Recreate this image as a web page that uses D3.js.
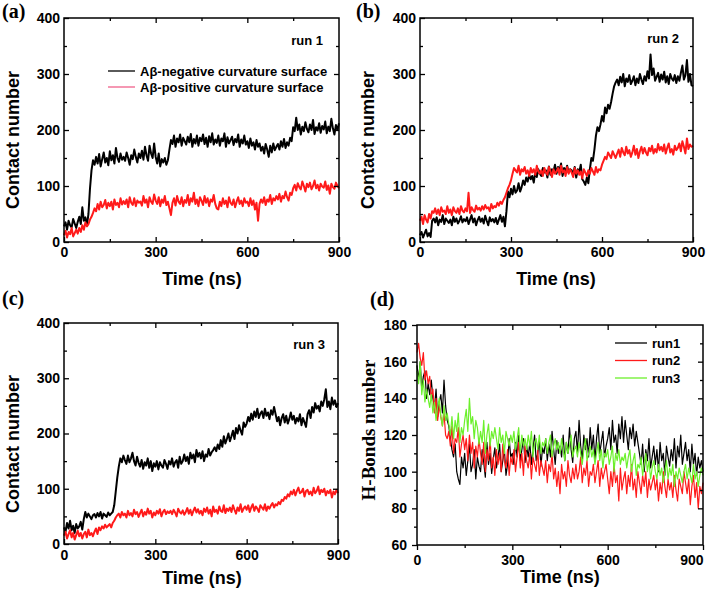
<!DOCTYPE html>
<html><head><meta charset="utf-8">
<script src="https://cdn.jsdelivr.net/npm/d3@7"></script>
<style>body{margin:0;background:#fff}svg{display:block}</style>
</head><body><svg id="c" width="709" height="595"></svg>
<script>
// ---------- data ----------
const timeNs = d3.range(0, 901, 5);
const xTicks = [0, 300, 600, 900];
const xMinor = [150, 450, 750];
const contactTicks = [0, 100, 200, 300, 400];
const contactMinor = [50, 150, 250, 350];
const hbTicks = [60, 80, 100, 120, 140, 160, 180];
const hbMinor = [70, 90, 110, 130, 150, 170];
const legendContact = ["Aβ-negative curvature surface", "Aβ-positive curvature surface"];
const legendHB = ["run1", "run2", "run3"];
const panelLabels = ["(a)", "(b)", "(c)", "(d)"];
const runLabels = ["run 1", "run 2", "run 3"];

const run1Neg = [28,35,22,38,30,26,41,33,25,36,
45,32,62,38,44,30,50,95,128,146,
138,152,140,157,135,148,160,142,150,137,
162,146,155,140,168,150,143,158,147,152,
145,160,150,138,155,148,165,152,142,158,
150,163,147,170,155,145,172,158,150,176,
152,140,158,135,148,142,150,138,146,165,
182,175,190,170,185,178,192,172,186,180,
174,188,178,193,170,184,176,190,172,186,
180,192,175,186,170,189,178,194,174,183,
177,190,172,185,180,194,170,187,176,182,
188,173,184,178,192,170,183,176,190,174,
180,168,185,172,178,165,182,170,176,163,
170,158,175,165,152,172,160,176,164,170,
175,165,180,170,184,168,178,172,186,180,
205,198,222,200,210,192,206,198,214,202,
196,210,200,218,193,205,199,212,195,207,
201,215,194,206,198,220,203,192,209,200,
212];
const run1Pos = [12,20,8,18,14,25,10,16,22,15,
25,18,30,22,35,28,32,40,45,52,
60,55,68,58,72,62,66,75,60,70,
64,72,58,76,66,70,62,78,67,73,
68,76,62,80,70,66,78,64,74,70,
72,65,82,70,76,62,80,72,68,85,
74,68,80,64,76,70,82,66,72,60,
48,70,78,65,82,72,68,80,64,75,
70,84,66,78,72,88,68,76,64,80,
74,66,82,70,78,64,76,72,84,68,
60,58,72,64,78,68,74,62,80,70,
66,76,62,72,80,68,74,64,78,70,
72,64,78,66,74,58,70,38,68,76,
70,80,66,76,72,84,68,78,74,82,
76,86,72,82,78,90,80,74,88,84,
96,102,92,105,98,94,108,100,90,104,
98,106,94,100,110,96,102,92,104,99,
97,108,93,101,86,104,98,95,106,100,
96];
const run2Neg = [12,18,8,15,22,10,16,9,38,42,
35,44,30,40,36,48,32,42,38,34,
40,30,45,36,42,33,38,46,35,41,
37,44,32,40,48,35,42,30,39,45,
36,42,33,47,38,30,44,37,41,35,
43,32,40,48,36,45,28,55,90,80,
95,85,100,88,92,105,90,98,110,102,
115,108,120,112,118,106,125,116,130,122,
118,132,124,128,115,135,120,130,126,138,
122,134,128,140,118,132,126,136,124,130,
128,120,134,115,130,124,138,112,108,102,
115,105,130,150,145,165,190,205,198,210,
225,215,240,230,245,238,250,265,278,285,
290,280,295,285,300,278,292,286,298,282,
288,296,280,292,284,300,290,282,296,288,
305,292,335,298,310,288,295,302,286,299,
290,304,285,296,282,300,292,288,298,284,
296,288,302,315,290,298,325,286,300,280,
278];
const run2Pos = [38,45,32,48,40,35,50,42,55,52,
60,50,58,48,62,54,56,50,64,52,
58,48,62,55,52,60,50,64,56,53,
60,55,88,52,62,57,54,65,58,61,
56,64,58,66,60,62,55,68,60,64,
62,70,65,72,68,75,80,88,96,102,
110,122,132,128,124,136,120,130,126,134,
122,128,118,132,124,130,120,136,126,122,
128,118,132,124,120,134,126,116,130,122,
126,132,120,136,124,128,118,134,122,130,
124,116,132,122,128,120,126,114,130,124,
118,128,122,132,126,120,134,124,130,128,
138,145,152,148,160,155,150,162,156,150,
158,165,152,168,160,155,170,158,164,152,
160,172,156,166,150,162,170,158,168,160,
155,168,162,172,158,166,160,175,164,170,
162,174,158,168,176,160,166,156,172,164,
168,176,162,180,170,158,185,166,174,170,
172];
const run3Neg = [30,22,38,28,42,25,33,20,36,28,
32,40,26,45,58,48,55,50,45,52,
54,48,56,50,58,46,55,52,49,57,
52,55,58,70,95,120,140,155,148,160,
152,145,160,148,155,165,150,142,158,147,
140,152,136,148,142,155,138,150,132,146,
140,150,135,148,142,138,152,145,136,150,
144,155,140,148,152,138,158,145,150,162,
150,158,145,165,155,162,148,170,158,165,
155,168,150,162,158,172,160,166,170,175,
168,180,172,188,176,195,182,190,200,186,
195,205,190,210,200,215,205,198,220,212,
218,230,222,236,225,240,230,245,228,236,
240,228,245,232,238,226,242,234,248,235,
222,230,215,228,235,220,232,218,226,238,
225,232,218,228,222,235,215,228,220,212,
235,242,228,248,238,255,245,250,240,258,
250,262,280,248,258,244,265,252,260,248,
255];
const run3Pos = [15,22,10,18,25,12,20,8,16,24,
14,20,10,18,22,12,26,16,20,14,
22,28,18,30,25,32,28,35,30,33,
36,30,38,42,48,52,55,48,58,52,
55,48,60,52,56,50,62,54,58,49,
56,62,50,58,53,64,55,60,48,57,
52,60,55,63,50,58,62,54,59,56,
60,54,62,57,50,64,58,55,61,53,
58,65,55,62,52,60,66,57,63,55,
60,52,64,58,66,55,62,50,68,58,
62,55,68,60,58,70,56,64,60,66,
58,70,62,55,66,60,72,58,64,68,
62,70,58,66,72,60,68,64,58,70,
66,62,72,60,68,64,70,74,66,72,
70,76,72,80,78,85,82,90,86,95,
90,98,88,96,102,92,94,100,86,96,
98,90,95,88,102,92,96,104,90,98,
94,100,88,96,92,98,84,95,90,98,
92];
const hbRun1 = [158,150,160,145,152,155,140,148,142,150,
140,135,145,130,138,142,132,150,136,128,
125,118,112,108,115,100,96,93,108,102,
110,98,106,115,100,104,112,96,108,103,
100,112,105,97,116,104,110,99,107,113,
102,108,115,100,106,112,98,104,118,108,
110,104,116,108,120,106,112,118,105,114,
108,116,104,112,120,106,110,117,103,113,
110,118,106,115,108,122,112,104,117,110,
114,108,120,106,116,110,124,112,105,118,
122,110,128,114,106,120,112,118,108,124,
112,120,106,118,126,110,116,122,108,114,
118,124,112,128,116,120,110,126,118,130,
116,128,120,112,124,118,126,114,122,116,
110,104,115,100,112,106,118,102,108,114,
104,112,100,116,106,110,98,114,108,103,
112,106,118,102,114,108,120,104,110,116,
106,112,100,115,104,110,98,108,102,106,
100];
const hbRun2 = [165,170,162,158,165,150,155,148,152,140,
145,132,140,128,136,130,125,132,120,118,
122,114,125,110,118,116,124,108,115,120,
112,118,106,120,110,116,102,114,108,118,
110,104,116,100,112,106,118,102,108,98,
112,104,110,100,115,106,102,112,98,108,
104,112,100,108,116,102,110,98,114,106,
102,110,96,108,104,100,112,98,106,102,
98,106,94,104,100,110,96,102,92,100,
88,104,96,100,92,106,98,94,102,96,
104,96,100,108,94,102,98,106,92,100,
98,104,94,100,106,92,102,96,100,104,
96,88,100,92,104,94,98,84,102,90,
96,100,88,98,92,104,90,96,86,100,
94,88,98,92,100,86,96,90,94,98,
90,96,84,94,88,100,92,86,96,90,
94,86,98,90,84,96,92,88,100,94,
88,96,82,92,98,86,94,80,92,88,
94];
const hbRun3 = [155,148,160,142,150,138,145,140,135,142,
132,138,128,135,140,130,125,136,128,132,
126,120,130,118,128,122,132,116,124,120,
128,134,122,140,126,130,118,128,124,115,
122,116,128,110,120,126,114,122,118,124,
118,112,124,116,120,110,122,118,114,120,
116,122,112,118,124,110,120,114,118,112,
120,114,122,108,116,118,112,120,110,116,
114,118,110,116,120,108,114,118,112,116,
110,118,112,106,116,110,114,120,108,112,
114,108,116,110,104,112,118,106,110,114,
108,112,104,110,116,106,112,102,110,108,
112,104,108,114,100,110,106,112,104,108,
106,110,102,108,112,100,106,110,98,104,
102,108,98,104,110,100,106,96,102,106,
100,96,104,98,102,94,100,106,96,102,
98,104,92,100,96,102,98,94,100,104,
96,102,98,94,104,96,100,92,98,102,
98];

// ---------- drawing ----------
const svg = d3.select("#c");
const SANS = "'Liberation Sans', Arial, sans-serif";
const SERIF = "'Liberation Serif', 'Times New Roman', serif";
const BLACK = "#000", RED = "#ff1a1a", GREEN = "#6cf02c";

function panel(o) {
  const g = svg.append("g");
  const x = d3.scaleLinear().domain([0, 900]).range([o.x0, o.x1]);
  const y = d3.scaleLinear().domain(o.yDom).range([o.y1, o.y0]);
  const outL = o.outward ? 5 : -5, outLm = o.outward ? 3 : -3;
  const clean = s => { s.select(".domain").remove(); s.selectAll("line").attr("stroke", "#000").attr("stroke-width", 1.3); };
  const lab = s => s.selectAll("text").attr("font-family", SANS).attr("font-weight", "bold").attr("font-size", 14).attr("fill", "#000");

  // series
  o.series.forEach(s => {
    g.append("path").datum(s.values)
      .attr("fill", "none").attr("stroke", s.color).attr("stroke-width", o.lw)
      .attr("stroke-linejoin", "round")
      .attr("d", d3.line().x((d, i) => x(timeNs[i])).y(d => y(d)));
  });

  // bottom
  const b = g.append("g").attr("transform", `translate(0,${o.y1})`)
    .call(d3.axisBottom(x).tickValues(xTicks).tickSize(outL).tickPadding(o.xPad))
    .call(clean).call(lab);
  if (o.lastEnd) b.selectAll(".tick").filter(d => d === 900).select("text").attr("text-anchor", "end").attr("x", o.x1 - x(900));
  g.append("g").attr("transform", `translate(0,${o.y1})`)
    .call(d3.axisBottom(x).tickValues(xMinor).tickSize(outLm).tickFormat("")).call(clean);
  // top
  g.append("g").attr("transform", `translate(0,${o.y0})`)
    .call(d3.axisTop(x).tickValues(xTicks.slice(1, 3)).tickSize(-5).tickFormat("")).call(clean);
  g.append("g").attr("transform", `translate(0,${o.y0})`)
    .call(d3.axisTop(x).tickValues(xMinor).tickSize(-3).tickFormat("")).call(clean);
  // left
  g.append("g").attr("transform", `translate(${o.x0},0)`)
    .call(d3.axisLeft(y).tickValues(o.yTicks).tickSize(outL).tickPadding(o.yPad))
    .call(clean).call(lab);
  g.append("g").attr("transform", `translate(${o.x0},0)`)
    .call(d3.axisLeft(y).tickValues(o.yMinor).tickSize(outLm).tickFormat("")).call(clean);
  // right
  g.append("g").attr("transform", `translate(${o.x1},0)`)
    .call(d3.axisRight(y).tickValues(o.yTicks.slice(1, -1)).tickSize(-5).tickFormat("")).call(clean);
  g.append("g").attr("transform", `translate(${o.x1},0)`)
    .call(d3.axisRight(y).tickValues(o.yMinor).tickSize(-3).tickFormat("")).call(clean);

  // frame
  g.append("rect").attr("x", o.x0).attr("y", o.y0).attr("width", o.x1 - o.x0).attr("height", o.y1 - o.y0)
    .attr("fill", "none").attr("stroke", "#000").attr("stroke-width", 1.5);

  // titles
  g.append("text").attr("x", o.xtX).attr("y", o.xtY).attr("text-anchor", "middle")
    .attr("font-family", SANS).attr("font-weight", "bold").attr("font-size", 18).text("Time (ns)");
  g.append("text").attr("transform", `translate(${o.ytX},${o.ytY}) rotate(-90)`).attr("text-anchor", "middle")
    .attr("font-family", o.ytSerif ? SERIF : SANS).attr("font-weight", "bold").attr("font-size", o.ytSerif ? 19 : 18)
    .text(o.yTitle);
  g.append("text").attr("x", o.plX).attr("y", o.plY).attr("font-family", SERIF).attr("font-weight", "bold")
    .attr("font-size", 20).text(o.label);
  if (o.run) g.append("text").attr("x", o.runX).attr("y", o.runY).attr("text-anchor", "end")
    .attr("font-family", SANS).attr("font-weight", "bold").attr("font-size", 13).text(o.run);

  // legend
  if (o.legend) {
    o.legend.items.forEach((t, i) => {
      const yy = o.legend.y + i * o.legend.dy;
      g.append("line").attr("x1", o.legend.x).attr("x2", o.legend.x + o.legend.len).attr("y1", yy).attr("y2", yy)
        .attr("stroke", o.legend.colors[i]).attr("stroke-width", 1.3);
      g.append("text").attr("x", o.legend.x + o.legend.len + 5).attr("y", yy + 4.5)
        .attr("font-family", SANS).attr("font-weight", "bold").attr("font-size", 13).text(t);
    });
  }
}

panel({x0: 64, x1: 339, y0: 18, y1: 242, yDom: [0, 400], yTicks: contactTicks, yMinor: contactMinor, lw: 2,
  xPad: 5, yPad: 4, xtX: 202, xtY: 285, ytX: 19, ytY: 140, yTitle: "Contact number",
  plX: 2, plY: 18, label: panelLabels[0], run: runLabels[0], runX: 323, runY: 45,
  series: [{values: run1Neg, color: BLACK}, {values: run1Pos, color: RED}],
  legend: {items: legendContact, colors: [BLACK, "#f0608a"], x: 108, y: 71, dy: 16, len: 27}});

panel({x0: 420, x1: 693, y0: 18, y1: 242, yDom: [0, 400], yTicks: contactTicks, yMinor: contactMinor, lw: 2,
  xPad: 5, yPad: 4, xtX: 556, xtY: 285, ytX: 374, ytY: 140, yTitle: "Contact number",
  plX: 356, plY: 18, label: panelLabels[1], run: runLabels[1], runX: 679, runY: 43,
  series: [{values: run2Neg, color: BLACK}, {values: run2Pos, color: RED}]});

panel({x0: 64, x1: 338, y0: 323, y1: 544, yDom: [0, 400], yTicks: contactTicks, yMinor: contactMinor, lw: 2,
  xPad: 6, yPad: 4, xtX: 202, xtY: 584, ytX: 19, ytY: 444, yTitle: "Contact number",
  plX: 2, plY: 305, label: panelLabels[2], run: runLabels[2], runX: 325, runY: 349,
  series: [{values: run3Neg, color: BLACK}, {values: run3Pos, color: RED}]});

panel({x0: 417, x1: 703, y0: 325, y1: 545, yDom: [60, 180], yTicks: hbTicks, yMinor: hbMinor, outward: true, lw: 1.2,
  xPad: 5, yPad: 5, lastEnd: true, xtX: 560, xtY: 583, ytX: 375, ytY: 430, yTitle: "H-Bonds number", ytSerif: true,
  plX: 370, plY: 306, label: panelLabels[3],
  series: [{values: hbRun1, color: BLACK}, {values: hbRun2, color: RED}, {values: hbRun3, color: GREEN}],
  legend: {items: legendHB, colors: [BLACK, RED, GREEN], x: 615, y: 343, dy: 17.5, len: 32}});
</script>
</body></html>
